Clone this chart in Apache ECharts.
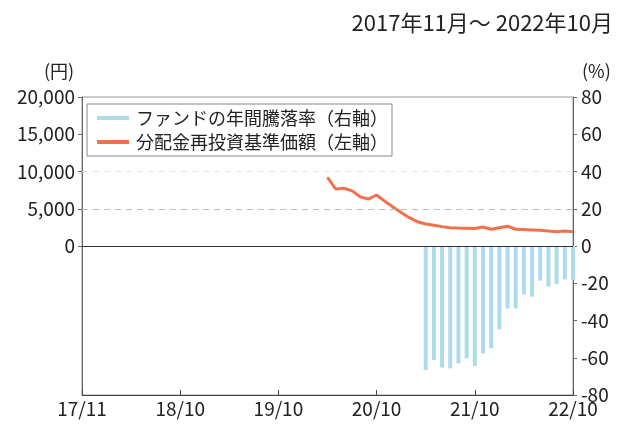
<!DOCTYPE html>
<html>
<head>
<meta charset="utf-8">
<script src="https://cdn.jsdelivr.net/npm/echarts@6.0.0/dist/echarts.min.js"></script>
<style>
  html, body { margin: 0; padding: 0; background: #fff; }
  #chart { width: 622px; height: 424px; }
</style>
</head>
<body>
<div id="chart"></div>
<script>
const tickLabels = ['17/11', '18/10', '19/10', '20/10', '21/10', '22/10']
const leftTicks = [0, 5000, 10000, 15000, 20000]

// month index counted from 17/11 = 0
const navStart = 30
const navValues = [
  9200, 7650, 7750, 7400, 6600, 6300, 6850, 6000, 5250, 4500, 3800,
  3250, 2950, 2780, 2600, 2450, 2400, 2380, 2360, 2550, 2250, 2450,
  2650, 2250, 2200, 2150, 2100, 2000, 1920, 2010, 1920,
]

const rateStart = 42
const rateValues = [
  -66.6, -61.2, -65.3, -65.7, -63.0, -60.3, -64.4, -57.6, -54.9, -44.7,
  -33.5, -33.5, -26.0, -27.2, -18.6, -21.8, -20.4, -17.9, -18.3,
]

const lineColor = '#f0714c'
const barColor = '#acdcea'
const font = "'Noto Sans CJK JP', 'Noto Sans', sans-serif"

const navData = navValues.map((v, i) => [navStart + i, v])
const rateData = rateValues.map((v, i) => [rateStart + i, v])

const chart = echarts.init(document.getElementById('chart'))
chart.setOption({
  animation: false,
  textStyle: { fontFamily: font },
  graphic: [
    {
      type: 'text',
      right: 9,
      top: 12,
      style: { text: '2017年11月～ 2022年10月', fontSize: 22, fill: '#222', fontFamily: font },
    },
    {
      type: 'text',
      left: 44,
      top: 62,
      style: { text: '(円)', fontSize: 18, fill: '#222', fontFamily: font },
    },
    {
      type: 'text',
      left: 582,
      top: 62,
      style: { text: '(%)', fontSize: 18, fill: '#222', fontFamily: font },
    },
  ],
  grid: {
    left: 82,
    right: 49,
    top: 97,
    bottom: 29,
    show: true,
    borderColor: '#999',
    borderWidth: 1,
  },
  legend: {
    left: 87,
    top: 104,
    orient: 'vertical',
    itemGap: 6,
    itemWidth: 32,
    itemHeight: 4,
    padding: [5, 4, 5, 10],
    borderColor: '#888',
    borderWidth: 1,
    backgroundColor: '#fff',
    textStyle: { fontSize: 18, color: '#222', fontFamily: font, padding: [0, 0, 0, 2] },
    data: [
      { name: 'ファンドの年間騰落率（右軸）', icon: 'rect', itemStyle: { color: barColor } },
      { name: '分配金再投資基準価額（左軸）', icon: 'rect', itemStyle: { color: lineColor } },
    ],
  },
  xAxis: {
    type: 'value',
    min: 0,
    max: 60,
    interval: 12,
    axisLine: { show: true, onZero: false, lineStyle: { color: '#444' } },
    axisTick: { show: true, inside: true, length: 5, lineStyle: { color: '#444' } },
    splitLine: { show: false },
    axisLabel: {
      fontSize: 19,
      color: '#222',
      margin: 4,
      formatter: (v) => tickLabels[v / 12],
    },
  },
  yAxis: [
    {
      type: 'value',
      min: -20000,
      max: 20000,
      interval: 5000,
      position: 'left',
      axisLine: { show: true, onZero: false, lineStyle: { color: '#666' } },
      axisTick: {
        show: true,
        length: 4,
        customValues: leftTicks,
        lineStyle: { color: '#666' },
      },
      splitLine: { show: false },
      axisLabel: {
        fontSize: 19,
        color: '#222',
        margin: 7,
        customValues: leftTicks,
        formatter: (v) => v.toLocaleString('en-US'),
      },
    },
    {
      type: 'value',
      min: -80,
      max: 80,
      interval: 20,
      position: 'right',
      axisLine: { show: true, onZero: false, lineStyle: { color: '#666' } },
      axisTick: { show: true, length: 4, lineStyle: { color: '#666' } },
      splitLine: { show: false },
      axisLabel: { fontSize: 19, color: '#222', margin: 8 },
    },
  ],
  series: [
    {
      name: 'ファンドの年間騰落率（右軸）',
      type: 'bar',
      yAxisIndex: 1,
      barWidth: 4,
      itemStyle: { color: barColor },
      data: rateData,
      markLine: {
        silent: true,
        symbol: 'none',
        label: { show: false },
        lineStyle: { color: '#333', type: 'solid', width: 1 },
        data: [{ yAxis: 0 }],
      },
    },
    {
      name: '分配金再投資基準価額（左軸）',
      type: 'line',
      yAxisIndex: 0,
      showSymbol: false,
      lineStyle: { color: lineColor, width: 3 },
      itemStyle: { color: lineColor },
      data: navData,
      markLine: {
        silent: true,
        symbol: 'none',
        label: { show: false },
        data: [
          { yAxis: 10000, lineStyle: { color: '#e4e4e4', type: [6, 5], width: 1 } },
          { yAxis: 5000, lineStyle: { color: '#bbb', type: [6, 5], width: 1 } },
        ],
      },
    },
  ],
})
</script>
</body>
</html>
